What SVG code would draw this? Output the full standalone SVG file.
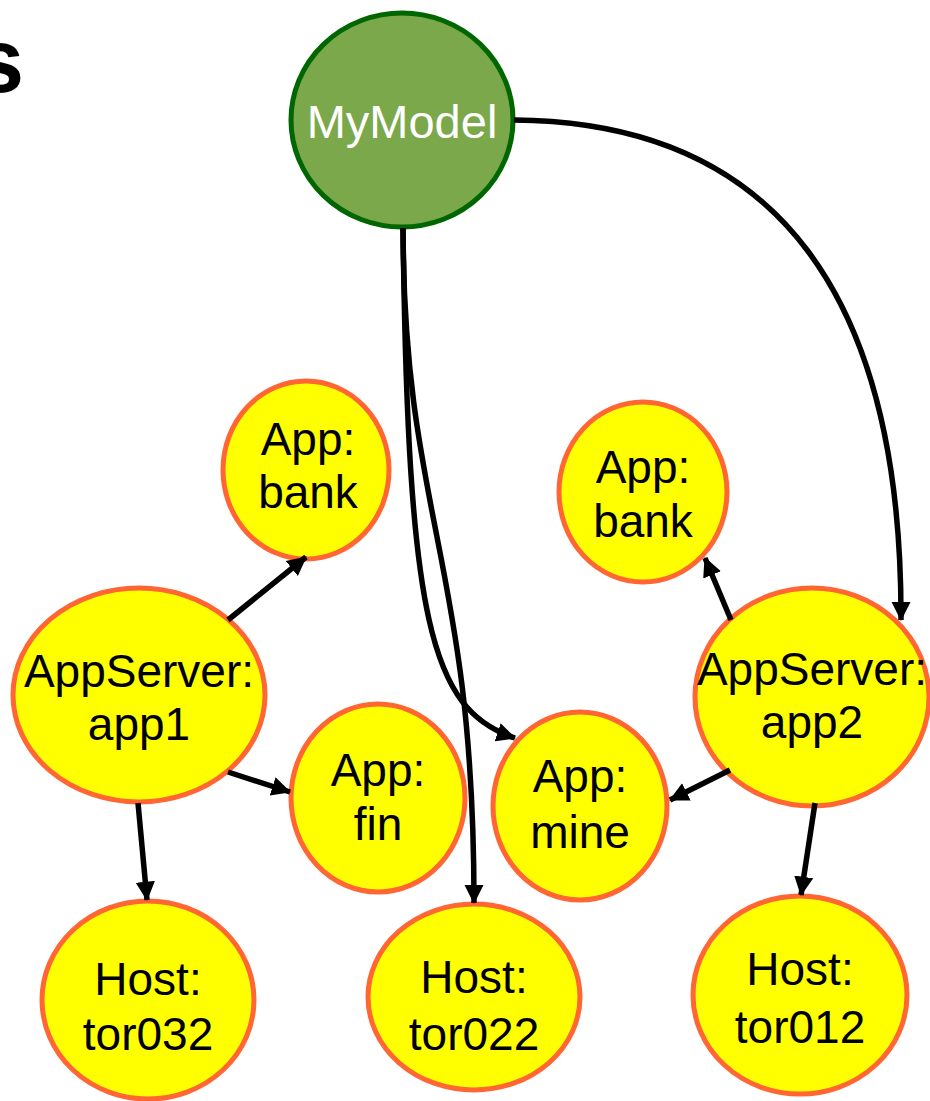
<svg xmlns="http://www.w3.org/2000/svg" width="930" height="1101" viewBox="0 0 930 1101">
  <defs>
    <marker id="arrow" viewBox="0 0 10 10" refX="9.5" refY="5" markerWidth="3.5" markerHeight="3.8" orient="auto" markerUnits="strokeWidth">
      <path d="M0,0 L10,5 L0,10 z" fill="#000"/>
    </marker>
    <style>
      .node { fill: #ffff00; stroke: #ff6633; stroke-width: 5; }
      .root { fill: #7aa84a; stroke: #006600; stroke-width: 5; }
      .lbl { font-family: "Liberation Sans", Arial, sans-serif; font-size: 46px; fill: #000; text-anchor: middle; }
      .rootlbl { font-family: "Liberation Sans", Arial, sans-serif; font-size: 47px; fill: #fff; text-anchor: middle; }
      .edge { fill: none; stroke: #000; stroke-width: 5.5; marker-end: url(#arrow); }
      .title { font-family: "Liberation Sans", Arial, sans-serif; font-size: 90px; font-weight: bold; fill: #000; }
    </style>
  </defs>
  <rect width="930" height="1101" fill="#fff"/>

  <!-- tail of the slide heading, cut off at the left edge -->
  <text class="title" x="-26" y="92">s</text>

  <g id="mymodel">
    <ellipse class="root" cx="402" cy="120" rx="111" ry="107"/>
    <text class="rootlbl" x="402" y="138">MyModel</text>
  </g>

  <g id="app-bank-1">
    <ellipse class="node" cx="306" cy="470" rx="83" ry="89"/>
    <text class="lbl" x="308" y="455">App:</text>
    <text class="lbl" x="308" y="508">bank</text>
  </g>

  <g id="app-bank-2">
    <ellipse class="node" cx="643" cy="492" rx="84" ry="90"/>
    <text class="lbl" x="643" y="483">App:</text>
    <text class="lbl" x="643" y="537">bank</text>
  </g>

  <g id="appserver-app1">
    <ellipse class="node" cx="139" cy="695" rx="126" ry="107"/>
    <text class="lbl" x="139" y="687">AppServer:</text>
    <text class="lbl" x="139" y="740">app1</text>
  </g>

  <g id="app-fin">
    <ellipse class="node" cx="378" cy="798" rx="87" ry="94"/>
    <text class="lbl" x="378" y="786">App:</text>
    <text class="lbl" x="378" y="840">fin</text>
  </g>

  <g id="app-mine">
    <ellipse class="node" cx="580" cy="806" rx="87" ry="94"/>
    <text class="lbl" x="580" y="792">App:</text>
    <text class="lbl" x="580" y="848">mine</text>
  </g>

  <g id="appserver-app2">
    <ellipse class="node" cx="812" cy="697" rx="117" ry="109"/>
    <text class="lbl" x="812" y="685">AppServer:</text>
    <text class="lbl" x="812" y="738">app2</text>
  </g>

  <g id="host-tor032">
    <ellipse class="node" cx="148" cy="1000" rx="106" ry="99"/>
    <text class="lbl" x="148" y="995">Host:</text>
    <text class="lbl" x="148" y="1050">tor032</text>
  </g>

  <g id="host-tor022">
    <ellipse class="node" cx="474" cy="997" rx="106" ry="93"/>
    <text class="lbl" x="474" y="993">Host:</text>
    <text class="lbl" x="474" y="1050">tor022</text>
  </g>

  <g id="host-tor012">
    <ellipse class="node" cx="800" cy="995" rx="107" ry="99"/>
    <text class="lbl" x="800" y="985">Host:</text>
    <text class="lbl" x="800" y="1043">tor012</text>
  </g>

  <!-- connectors, drawn last so the arrow tips sit on the node outlines -->
  <g id="edges">
    <path class="edge" d="M514,120 C780,122 902,300 901,620"/>
    <path class="edge" d="M403,228 C408,620 430,710 515,738"/>
    <path class="edge" d="M403,228 C404,520 474,560 474,903"/>
    <path class="edge" d="M228,620 L306,557"/>
    <path class="edge" d="M228,772 L290,792"/>
    <path class="edge" d="M138,803 L147,900"/>
    <path class="edge" d="M731,620 L705,558"/>
    <path class="edge" d="M730,770 L670,800"/>
    <path class="edge" d="M815,803 L801,895"/>
  </g>
</svg>
